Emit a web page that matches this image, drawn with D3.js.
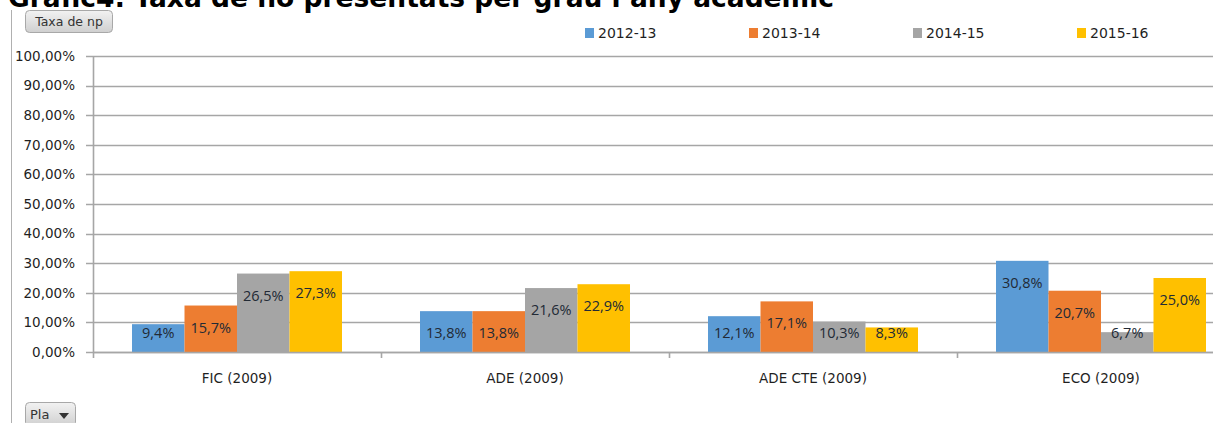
<!DOCTYPE html>
<html>
<head>
<meta charset="utf-8">
<script src="https://cdn.jsdelivr.net/npm/d3@7"></script>
<style>
  body { margin: 0; background: #fff; overflow: hidden; }
  svg { display: block; font-family: "DejaVu Sans", Verdana, sans-serif; }
</style>
</head>
<body>
<div id="chart"></div>
<script>
// données du graphique
const categories = ["FIC (2009)", "ADE (2009)", "ADE CTE (2009)", "ECO (2009)"];
const series = ["2012-13", "2013-14", "2014-15", "2015-16"];
const colors = ["#5b9bd5", "#ed7d31", "#a5a5a5", "#ffc000"];
const values = [
    [0.094, 0.157, 0.265, 0.273],
    [0.138, 0.138, 0.216, 0.229],
    [0.121, 0.171, 0.103, 0.083],
    [0.308, 0.207, 0.067, 0.250]
];
const yTicks = [0, 0.1, 0.2, 0.3, 0.4, 0.5, 0.6, 0.7, 0.8, 0.9, 1.0];

const width = 1213;
const height = 423;

const svg = d3.select("#chart").append("svg")
    .attr("width", width)
    .attr("height", height);

// titre (coupé en haut comme dans l'original)
svg.append("text")
    .attr("x", 8)
    .attr("y", 7)
    .attr("font-weight", "bold")
    .attr("font-size", 26.5)
    .attr("fill", "#000")
    .text("Gràfic4: Taxa de no presentats per grau i any acadèmic");

// bord gauche
svg.append("line")
    .attr("x1", 11.5).attr("x2", 11.5)
    .attr("y1", 10).attr("y2", height)
    .attr("stroke", "#b0b0b0");

const grad = svg.append("defs").append("linearGradient")
    .attr("id", "btn").attr("x1", 0).attr("x2", 0).attr("y1", 0).attr("y2", 1);
grad.append("stop").attr("offset", "0%").attr("stop-color", "#f2f2f2");
grad.append("stop").attr("offset", "100%").attr("stop-color", "#cfcfcf");

// bouton "Taxa de np"
svg.append("rect")
    .attr("x", 25.5).attr("y", 10.5).attr("width", 87).attr("height", 22)
    .attr("rx", 4)
    .attr("fill", "url(#btn)").attr("stroke", "#a8a8a8");
svg.append("text")
    .attr("x", 69).attr("y", 26)
    .attr("text-anchor", "middle")
    .attr("font-size", 12.5)
    .attr("fill", "#333")
    .text("Taxa de np");

// bouton "Pla"
svg.append("rect")
    .attr("x", 25.5).attr("y", 402.5).attr("width", 50).attr("height", 24)
    .attr("rx", 4)
    .attr("fill", "url(#btn)").attr("stroke", "#a8a8a8");
svg.append("text")
    .attr("x", 30).attr("y", 419)
    .attr("font-size", 13)
    .attr("fill", "#333")
    .text("Pla");
svg.append("path")
    .attr("d", "M59,413 L69,413 L64,419 Z")
    .attr("fill", "#333");

// échelles
const x0 = d3.scaleBand().domain(categories).range([93, 1245]);
const x1 = d3.scaleBand().domain(series).range([0, x0.bandwidth()]).paddingOuter(0.743);
const y = d3.scaleLinear().domain([0, 1]).range([352, 56]);

// grille horizontale
svg.append("g")
    .selectAll("line")
    .data(yTicks)
    .join("line")
    .attr("x1", 86)
    .attr("x2", width)
    .attr("y1", d => Math.round(y(d)) + 0.5)
    .attr("y2", d => Math.round(y(d)) + 0.5)
    .attr("stroke", "#a6a6a6")
    .attr("stroke-width", 1.6);

// axe y
const yAxis = svg.append("g")
    .attr("transform", "translate(93,0)")
    .call(d3.axisLeft(y).tickValues(yTicks).tickSize(0).tickPadding(18)
        .tickFormat(d => (d * 100).toFixed(2).replace(".", ",") + "%"));
yAxis.select(".domain").remove();
yAxis.selectAll("text")
    .attr("font-size", 13.5)
    .attr("font-family", "DejaVu Sans, sans-serif")
    .attr("fill", "#1f1f1f");

svg.append("line")
    .attr("x1", 93.5).attr("x2", 93.5)
    .attr("y1", 56).attr("y2", 358)
    .attr("stroke", "#a6a6a6").attr("stroke-width", 1.6);

// barres
const groups = svg.append("g")
    .selectAll("g")
    .data(categories)
    .join("g")
    .attr("transform", d => `translate(${x0(d)},0)`);

groups.selectAll("rect")
    .data((d, i) => values[i].map((v, j) => ({serie: series[j], value: v, color: colors[j]})))
    .join("rect")
    .attr("x", d => x1(d.serie))
    .attr("y", d => y(d.value))
    .attr("width", x1.bandwidth())
    .attr("height", d => y(0) - y(d.value))
    .attr("fill", d => d.color);

// étiquettes de valeurs
groups.selectAll("text")
    .data((d, i) => values[i].map((v, j) => ({serie: series[j], value: v})))
    .join("text")
    .attr("x", d => x1(d.serie) + x1.bandwidth() / 2)
    .attr("y", d => Math.min(y(d.value) + 22, y(0) - 19))
    .attr("dy", "0.35em")
    .attr("text-anchor", "middle")
    .attr("font-family", "Open Sans, sans-serif")
    .attr("font-size", 14.5)
    .attr("fill", "#222a35")
    .text(d => (d.value * 100).toFixed(1).replace(".", ",") + "%");

// axe x
const xAxis = svg.append("g")
    .attr("transform", "translate(0,352)");
xAxis.append("line")
    .attr("x1", 93).attr("x2", width)
    .attr("y1", 0.5).attr("y2", 0.5)
    .attr("stroke", "#a6a6a6").attr("stroke-width", 1.6);
xAxis.selectAll(".tick")
    .data(categories.slice(1))
    .join("line")
    .attr("x1", d => Math.round(x0(d)) + 0.5)
    .attr("x2", d => Math.round(x0(d)) + 0.5)
    .attr("y1", 0).attr("y2", 6)
    .attr("stroke", "#a6a6a6").attr("stroke-width", 1.6);
xAxis.selectAll(".label")
    .data(categories)
    .join("text")
    .attr("x", d => x0(d) + x0.bandwidth() / 2)
    .attr("y", 31)
    .attr("text-anchor", "middle")
    .attr("font-size", 13.5)
    .attr("fill", "#1f1f1f")
    .text(d => d);

// légende
const legend = svg.append("g")
    .selectAll("g")
    .data(series)
    .join("g")
    .attr("transform", (d, i) => `translate(${585 + i * 164},0)`);
legend.append("rect")
    .attr("x", 0).attr("y", 28)
    .attr("width", 9).attr("height", 10)
    .attr("fill", (d, i) => colors[i]);
legend.append("text")
    .attr("x", 13).attr("y", 38)
    .attr("font-size", 14)
    .attr("fill", "#1f1f1f")
    .text(d => d);
</script>
</body>
</html>
